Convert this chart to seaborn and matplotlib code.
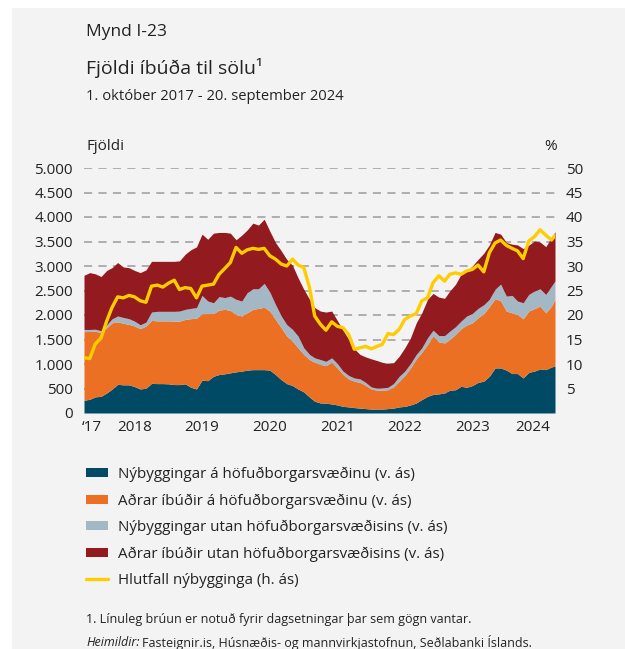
import pandas as pd
import matplotlib
matplotlib.use('Agg')
import matplotlib.pyplot as plt
from matplotlib.patches import Rectangle, Patch
from matplotlib.lines import Line2D
import seaborn as sns

# monthly readings, 1. okt 2017 .. 1. sep 2024, plus 20. sep 2024
dates = list(pd.date_range('2017-10-01', '2024-09-01', freq='MS')) + [pd.Timestamp('2024-09-20')]

nyb_hofud = [260, 280, 330, 340, 410, 485, 585, 575, 575, 540,
             490, 505, 605, 600, 600, 595, 580, 580, 595, 525,
             490, 670, 660, 750, 785, 800, 820, 840, 855, 875,
             885, 885, 885, 875, 785, 680, 600, 560, 490, 430,
             325, 240, 205, 200, 185, 165, 135, 125, 110, 100,
             90, 80, 80, 80, 90, 100, 125, 135, 165, 205,
             275, 340, 380, 390, 410, 465, 475, 545, 525, 560,
             625, 650, 750, 920, 920, 875, 805, 805, 715, 830,
             855, 900, 885, 940, 955]
adrar_hofud = [1400, 1385, 1340, 1300, 1330, 1355, 1275, 1255, 1235, 1235,
               1230, 1270, 1285, 1280, 1280, 1285, 1295, 1295, 1315, 1400,
               1445, 1355, 1370, 1280, 1315, 1315, 1275, 1170, 1125, 1170,
               1230, 1250, 1275, 1205, 1125, 1060, 970, 905, 840, 765,
               765, 795, 785, 770, 850, 755, 650, 570, 540, 525,
               475, 410, 385, 385, 385, 430, 525, 630, 755, 900,
               965, 1060, 1200, 1060, 1020, 1035, 1130, 1175, 1270, 1280,
               1320, 1380, 1420, 1415, 1370, 1205, 1240, 1205, 1210, 1250,
               1275, 1280, 1160, 1240, 1365]
nyb_utan = [45, 40, 40, 40, 60, 80, 120, 120, 115, 100,
            80, 80, 170, 195, 195, 195, 200, 205, 205, 210,
            215, 375, 255, 220, 275, 240, 290, 310, 305, 410,
            420, 400, 485, 390, 305, 240, 235, 240, 240, 135,
            105, 90, 100, 85, 90, 90, 70, 70, 65, 70,
            60, 40, 45, 45, 50, 70, 100, 90, 90, 90,
            90, 135, 110, 130, 150, 170, 155, 155, 185, 190,
            190, 180, 150, 190, 340, 305, 355, 275, 325, 340,
            360, 355, 375, 410, 375]
adrar_utan = [1105, 1160, 1130, 1105, 1110, 1045, 1090, 1030, 1040, 1035,
              1065, 1065, 1035, 1020, 1020, 1020, 1020, 1025, 1125, 1195,
              1240, 1250, 1260, 1420, 1310, 1330, 1285, 1215, 1345, 1280,
              1340, 1300, 1310, 1245, 1265, 1330, 1330, 1310, 1190, 1195,
              1125, 1025, 990, 1005, 955, 880, 835, 735, 595, 500,
              520, 575, 560, 525, 485, 425, 410, 475, 525, 645,
              715, 785, 750, 785, 760, 820, 865, 955, 920, 970,
              1000, 1050, 1110, 1160, 1020, 1095, 1045, 1145, 1105, 1005,
              1020, 955, 975, 990, 1005]
hlutfall = [11.3, 11.1, 14.1, 15.3, 18.8, 21.5, 23.7, 23.5, 24.0, 23.7,
            22.9, 22.6, 25.9, 26.1, 25.7, 26.5, 27.1, 25.2, 25.6, 25.4,
            23.5, 25.9, 26.1, 26.3, 28.3, 29.5, 30.7, 33.8, 32.6, 33.3,
            33.6, 33.4, 33.6, 32.1, 31.4, 30.4, 30.0, 31.4, 30.2, 29.7,
            25.6, 19.8, 18.1, 16.9, 18.6, 17.7, 17.4, 16.0, 13.0, 13.3,
            13.6, 13.1, 13.6, 14.0, 16.2, 16.0, 17.1, 19.1, 19.8, 20.3,
            22.9, 23.5, 26.6, 28.0, 26.9, 28.3, 28.6, 28.3, 29.0, 29.3,
            30.2, 28.8, 32.7, 34.7, 35.3, 34.2, 33.6, 33.1, 31.5, 35.1,
            36.0, 37.4, 36.3, 35.3, 36.2]

labels = ['Nýbyggingar á höfuðborgarsvæðinu (v. ás)',
          'Aðrar íbúðir á höfuðborgarsvæðinu (v. ás)',
          'Nýbyggingar utan höfuðborgarsvæðisins (v. ás)',
          'Aðrar íbúðir utan höfuðborgarsvæðisins (v. ás)',
          'Hlutfall nýbygginga (h. ás)']
year_labels = ['‘17', '2018', '2019', '2020', '2021', '2022', '2023', '2024']
left_ticks = [0, 500, 1000, 1500, 2000, 2500, 3000, 3500, 4000, 4500, 5000]
right_ticks = [5, 10, 15, 20, 25, 30, 35, 40, 45, 50]

df = pd.DataFrame({'dags': dates, 'nyb_hofud': nyb_hofud, 'adrar_hofud': adrar_hofud,
                   'nyb_utan': nyb_utan, 'adrar_utan': adrar_utan, 'hlutfall': hlutfall})

BG = '#f3f3f3'
TXT = '#222222'
colors = ['#004a66', '#ec7024', '#a4b7c4', '#931a1f']
YELLOW = '#ffcc00'
GRID = '#a8a8a8'

sns.set_theme(style='white')
plt.rcParams['font.family'] = ['Open Sans', 'DejaVu Sans']
plt.rcParams['text.color'] = TXT

W, H = 625, 649
fig = plt.figure(figsize=(W / 100, H / 100), dpi=100, facecolor='white')
fig.patches.append(Rectangle((12 / W, 0), 1 - 12 / W, 1 - 8 / H, transform=fig.transFigure,
                             facecolor=BG, edgecolor='none', zorder=-10))

ax = fig.add_axes([84 / W, 1 - 413 / H, 471 / W, 245 / H])
ax.set_facecolor(BG)
ax.stackplot(df['dags'], df['nyb_hofud'], df['adrar_hofud'], df['nyb_utan'], df['adrar_utan'],
             colors=colors, linewidth=0, zorder=2)
for v in left_ticks[1:]:
    ax.axhline(v, color=GRID, lw=1.3, ls=(0, (4.5, 3.5)), zorder=1)
ax.set_xlim(dates[0], dates[-1])
ax.set_ylim(0, 5000)
ax.set_yticks(left_ticks)
ax.set_yticklabels([f'{v:,}'.replace(',', '.') for v in left_ticks])
ax.tick_params(axis='y', length=0, pad=8, labelsize=11, labelcolor=TXT)

year_starts = [pd.Timestamp(f'{y}-01-01') for y in range(2018, 2025)]
ax.set_xticks([dates[0]] + year_starts + [dates[-1]])
ax.set_xticklabels([''] * (len(year_starts) + 2))
ax.tick_params(axis='x', which='major', length=7, width=1.5, color='#a0a0a0', direction='out')
mids = [pd.Timestamp('2017-11-12')] + [pd.Timestamp(f'{y}-07-01') for y in range(2018, 2024)] + \
       [pd.Timestamp('2024-05-25')]
ax.set_xticks(mids, minor=True)
ax.set_xticklabels(year_labels, minor=True)
ax.tick_params(axis='x', which='minor', length=0, pad=5, labelsize=11, labelcolor=TXT)
for s in ax.spines.values():
    s.set_visible(False)
ax.set_xlabel('')
ax.set_ylabel('')

ax2 = ax.twinx()
sns.lineplot(data=df, x='dags', y='hlutfall', ax=ax2, color=YELLOW, lw=2.4)
ax2.set_ylim(0, 50)
ax2.set_xlim(dates[0], dates[-1])
ax2.set_yticks(right_ticks)
ax2.set_yticklabels([str(v) for v in right_ticks])
ax2.tick_params(axis='y', length=0, pad=8, labelsize=11, labelcolor=TXT)
ax2.set_xlabel('')
ax2.set_ylabel('')
for s in ax2.spines.values():
    s.set_visible(False)

fig.text(86 / W, 1 - 32 / H, 'Mynd I-23', fontsize=12.5, va='center', ha='left')
fig.text(86 / W, 1 - 68 / H, 'Fjöldi íbúða til sölu¹', fontsize=14, va='center', ha='left')
fig.text(86 / W, 1 - 97 / H, '1. október 2017 - 20. september 2024', fontsize=10.6, va='center', ha='left')
fig.text(86 / W, 1 - 146 / H, 'Fjöldi', fontsize=11, va='center', ha='left')
fig.text(557 / W, 1 - 146 / H, '%', fontsize=11, va='center', ha='right')

handles = [Patch(facecolor=c, edgecolor='none') for c in colors] + \
          [Line2D([], [], color=YELLOW, lw=2.4)]
fig.legend(handles, labels, loc='upper left', bbox_to_anchor=(86 / W, 1 - 467 / H),
           frameon=False, fontsize=10.9, handlelength=1.48, handleheight=0.55,
           labelspacing=0.74, handletextpad=0.64, borderaxespad=0, borderpad=0)

fig.text(86 / W, 1 - 620 / H, '1. Línuleg brúun er notuð fyrir dagsetningar þar sem gögn vantar.',
         fontsize=9, va='center', ha='left')
t = fig.text(86 / W, 1 - 642 / H, 'Heimildir:', fontsize=9, style='italic', va='center', ha='left')
fig.canvas.draw()
bb = t.get_window_extent()
fig.text((bb.x1 + 3) / W, 1 - 642 / H,
         'Fasteignir.is, Húsnæðis- og mannvirkjastofnun, Seðlabanki Íslands.',
         fontsize=9, va='center', ha='left')

fig.savefig('out.png', dpi=100, facecolor='white')
